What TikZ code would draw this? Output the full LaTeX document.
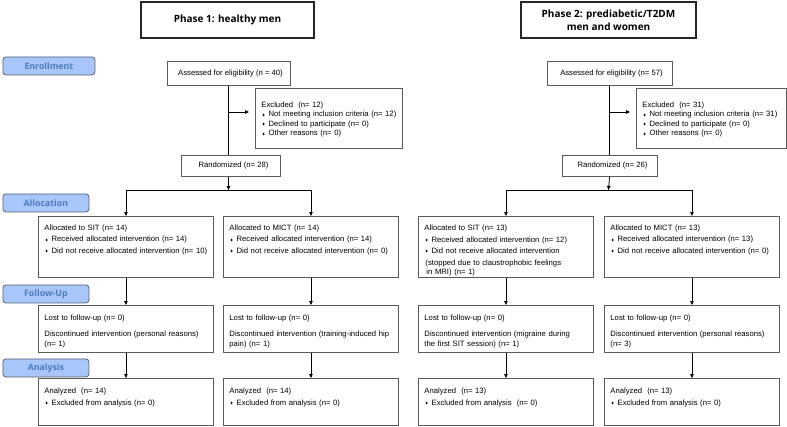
\documentclass[tikz,border=0pt]{standalone}
\usepackage{amssymb}
\usepackage{fontspec}
\setmainfont{Liberation Sans}
\newfontfamily\hdfont{Open Sans}
\usetikzlibrary{arrows.meta}

\definecolor{tabfill}{RGB}{168,198,250}
\definecolor{tabline}{RGB}{85,95,115}
\definecolor{tabtext}{RGB}{75,125,190}
\definecolor{boxline}{RGB}{90,90,90}

\newcommand{\bodyfont}{\fontsize{7.7}{10}\selectfont}
\newcommand{\dia}{\hspace*{1pt}\raisebox{0.8pt}{\scalebox{.45}{$\blacklozenge$}}\hspace{3.5pt}}

\begin{document}
\begin{tikzpicture}[x = 1pt, y = -1pt,
box/.style = {draw = boxline, line width = 0.9pt, anchor = north west, inner sep = 0pt, text width = 175pt, align = left, font = \bodyfont, execute at begin node = {\leftskip=6pt}},
cbox/.style = {draw = boxline, line width = 0.9pt, anchor = north, inner sep = 0pt, font = \bodyfont},
alrow/.style = {text height = 14pt, text depth = 47pt},
furow/.style = {text height = 15pt, text depth = 32pt},
anrow/.style = {text height = 15pt, text depth = 32pt},
exrow/.style = {text height = 19pt, text depth = 41pt},
tab/.style = {draw = tabline, fill = tabfill, line width = 0.8pt, rounded corners = 3pt, anchor = north west, inner sep = 0pt, minimum height = 18pt, font = \hdfont\bfseries\fontsize{8.8}{10}\selectfont, text = tabtext},
phase/.style = {draw = black!85, line width = 2.2pt, inner sep = 0pt, align = center, minimum height = 36pt, font = \hdfont\bfseries\fontsize{10}{12.5}\selectfont},
arr/.style = {-{Triangle[length = 4pt, width = 3.5pt]}, line width = 0.8pt}
]
\useasboundingbox (0,0) rectangle (787,426);

% headers and stage tabs
\node[phase, minimum width = 173pt] (head1) at (227.5,20) {Phase 1: healthy men};
\node[phase, minimum width = 175pt] (head2) at (608.5,20) {Phase 2: prediabetic/T2DM\\men and women};
\node[tab, minimum width = 92pt] (enrol) at (2.5,56.5) {Enrollment};
\node[tab, minimum width = 86pt] (alloc) at (2.5,193.5) {Allocation};
\node[tab, minimum width = 86pt] (follow) at (2.5,284.5) {Follow-Up};
\node[tab, minimum width = 86pt] (anal) at (2.5,358.5) {Analysis};

% phase 1
\node[cbox, minimum width = 123pt, minimum height = 24pt] (asm1) at (228.5,61) {\hspace*{4pt}Assessed for eligibility (n = 40)};
\node[box, exrow, text width = 147pt] (exc1) at (255,88) {Excluded~~(n= 12)\\[-0.5pt]
\dia Not meeting inclusion criteria (n= 12)\\[-0.5pt]
\dia Declined to participate (n= 0)\\[-0.5pt]
\dia Other reasons (n= 0)};
\node[cbox, minimum width = 99pt, minimum height = 21pt] (rand1) at (230.5,155) {\hspace*{6pt}Randomized (n= 28)};
\node[box, alrow] (sit1) at (38,216) {Allocated to SIT (n= 14)\\[1.5pt]
\dia Received allocated intervention (n= 14)\\[1.5pt]
\dia Did not receive allocated intervention (n= 10)};
\node[box, alrow] (mict1) at (223,216) {Allocated to MICT (n= 14)\\[1.5pt]
\dia Received allocated intervention (n= 14)\\[1.5pt]
\dia Did not receive allocated intervention (n= 0)};
\node[box, furow] (fu1a) at (38,305) {Lost to follow-up (n= 0)\\[6pt]
Discontinued intervention (personal reasons)\\
(n= 1)};
\node[box, furow] (fu1b) at (223,305) {Lost to follow-up (n= 0)\\[6pt]
Discontinued intervention (training-induced hip\\
pain) (n= 1)};
\node[box, anrow] (an1a) at (38,378) {Analyzed~~(n= 14)\\[2pt]
\dia Excluded from analysis (n= 0)};
\node[box, anrow] (an1b) at (223,378) {Analyzed~~(n= 14)\\[2pt]
\dia Excluded from analysis (n= 0)};

\coordinate (ex1) at (228.5,112);
\coordinate (sp1) at (228.5,190);
\draw[line width = 0.8pt] (asm1.south) -- (asm1.south |- rand1.north);
\draw[arr, shorten > = 6pt] (ex1) -- (exc1.west |- ex1);
\draw[arr] (asm1.south |- rand1.south) -- (sp1);
\draw[line width = 0.8pt] (sit1.north |- sp1) -- (mict1.north |- sp1);
\foreach \a/\b in {sit1/fu1a, fu1a/an1a, mict1/fu1b, fu1b/an1b}{\draw[arr] (\a) -- (\b);}
\foreach \a in {sit1, mict1}{\draw[arr] (\a.north |- sp1) -- (\a.north);}

% phase 2
\node[cbox, minimum width = 125pt, minimum height = 24pt] (asm2) at (609.5,61) {\hspace*{4pt}Assessed for eligibility (n= 57)};
\node[box, exrow, text width = 150pt] (exc2) at (636,88) {Excluded~~(n= 31)\\[-0.5pt]
\dia Not meeting inclusion criteria (n= 31)\\[-0.5pt]
\dia Declined to participate (n= 0)\\[-0.5pt]
\dia Other reasons (n= 0)};
\node[cbox, minimum width = 95pt, minimum height = 21pt] (rand2) at (609.5,155) {\hspace*{6pt}Randomized (n= 26)};
\node[box, alrow] (sit2) at (418,216) {Allocated to SIT (n= 13)\\[2pt]
\dia Received allocated intervention (n= 12)\\[1pt]
\dia Did not receive allocated intervention\\[1.7pt]
\hspace*{1pt}(stopped due to claustrophobic feelings\\[-1pt]
\hspace*{2pt}in MRI) (n= 1)};
\node[box, alrow] (mict2) at (604,216) {Allocated to MICT (n= 13)\\[1.5pt]
\dia Received allocated intervention (n= 13)\\[1.5pt]
\dia Did not receive allocated intervention (n= 0)};
\node[box, furow] (fu2a) at (418,305) {Lost to follow-up (n= 0)\\[6pt]
Discontinued intervention (migraine during\\
the first SIT session) (n= 1)};
\node[box, furow] (fu2b) at (604,305) {Lost to follow-up (n= 0)\\[6pt]
Discontinued intervention (personal reasons)\\
(n= 3)};
\node[box, anrow] (an2a) at (418,378) {Analyzed~~(n= 13)\\[2pt]
\dia Excluded from analysis~~(n= 0)};
\node[box, anrow] (an2b) at (604,378) {Analyzed~~(n= 13)\\[2pt]
\dia Excluded from analysis (n= 0)};

\coordinate (ex2) at (608.5,112);
\coordinate (sp2) at (608.5,190);
\draw[line width = 0.8pt] (asm2.south) -- (asm2.south |- rand2.north);
\draw[arr, shorten > = 6pt] (ex2) -- (exc2.west |- ex2);
\draw[arr] (asm2.south |- rand2.south) -- (sp2);
\draw[line width = 0.8pt] (sit2.north |- sp2) -- (mict2.north |- sp2);
\foreach \a/\b in {sit2/fu2a, fu2a/an2a, mict2/fu2b, fu2b/an2b}{\draw[arr] (\a) -- (\b);}
\foreach \a in {sit2, mict2}{\draw[arr] (\a.north |- sp2) -- (\a.north);}
\end{tikzpicture}
\end{document}
